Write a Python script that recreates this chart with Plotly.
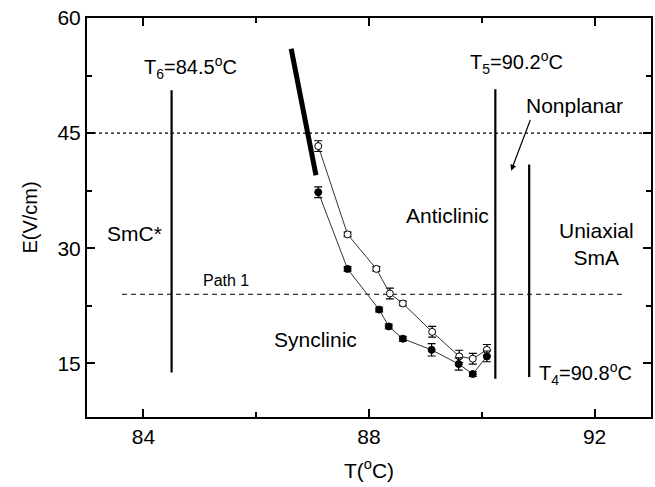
import plotly.graph_objects as go

# Data
T_open = [87.10, 87.62, 88.13, 88.37, 88.60, 89.12, 89.60, 89.84, 90.09]
E_open = [43.3, 31.8, 27.3, 24.1, 22.8, 19.1, 15.9, 15.6, 16.75]
err_open = [0.7, 0.3, 0.3, 0.7, 0.3, 0.7, 0.8, 0.7, 0.7]

T_fill = [87.10, 87.62, 88.18, 88.35, 88.60, 89.11, 89.59, 89.84, 90.09]
E_fill = [37.3, 27.3, 22.0, 19.8, 18.2, 16.75, 14.9, 13.6, 15.9]
err_fill = [0.7, 0.3, 0.3, 0.3, 0.3, 0.8, 0.8, 0.3, 0.7]

T_thick = [86.62, 87.06]
E_thick = [56.0, 39.5]

E_nonplanar = 45.0
E_path1 = 24.0
path1_T = [83.62, 92.54]

T6 = 84.5
T6_E = [13.8, 50.6]
T5 = 90.24
T5_E = [13.0, 50.7]
T4 = 90.84
T4_E = [13.2, 40.9]

x_range = [83, 93]
y_range = [8, 60]
x_ticks = [84, 88, 92]
y_ticks = [15, 30, 45, 60]

FONT = "Liberation Sans, Arial, sans-serif"

fig = go.Figure()

# horizontal reference lines
fig.add_trace(go.Scatter(x=x_range, y=[E_nonplanar, E_nonplanar], mode="lines",
                         line=dict(color="black", width=1.2, dash="dot"),
                         showlegend=False, hoverinfo="skip"))
fig.add_trace(go.Scatter(x=path1_T, y=[E_path1, E_path1], mode="lines",
                         line=dict(color="black", width=1.2, dash="5px,4px"),
                         showlegend=False, hoverinfo="skip"))

# vertical phase-boundary lines
for tv, ev in [(T6, T6_E), (T5, T5_E), (T4, T4_E)]:
    fig.add_trace(go.Scatter(x=[tv, tv], y=ev, mode="lines",
                             line=dict(color="black", width=2.2),
                             showlegend=False, hoverinfo="skip"))

# thick line
fig.add_trace(go.Scatter(x=T_thick, y=E_thick, mode="lines",
                         line=dict(color="black", width=5),
                         showlegend=False, hoverinfo="skip"))

# open-circle series
fig.add_trace(go.Scatter(x=T_open, y=E_open, mode="lines+markers",
                         line=dict(color="#333333", width=1),
                         marker=dict(symbol="circle", size=7, color="white",
                                     line=dict(color="black", width=1)),
                         error_y=dict(type="data", array=err_open, color="black",
                                      thickness=1.2, width=4),
                         showlegend=False))
# filled-circle series
fig.add_trace(go.Scatter(x=T_fill, y=E_fill, mode="lines+markers",
                         line=dict(color="#333333", width=1),
                         marker=dict(symbol="circle", size=7, color="black",
                                     line=dict(color="black", width=1)),
                         error_y=dict(type="data", array=err_fill, color="black",
                                      thickness=1.2, width=4),
                         showlegend=False))

ann = [
    dict(x=84.84, y=53.5, text="T<sub>6</sub>=84.5<sup>o</sup>C", size=20),
    dict(x=90.61, y=54.2, text="T<sub>5</sub>=90.2<sup>o</sup>C", size=20),
    dict(x=91.84, y=13.7, text="T<sub>4</sub>=90.8<sup>o</sup>C", size=20),
    dict(x=91.65, y=48.6, text="Nonplanar", size=21),
    dict(x=89.4, y=34.3, text="Anticlinic", size=21),
    dict(x=92.03, y=30.6, text="Uniaxial<br>SmA", size=21),
    dict(x=83.85, y=31.9, text="SmC*", size=21),
    dict(x=85.46, y=25.8, text="Path 1", size=16),
    dict(x=87.05, y=18.1, text="Synclinic", size=21),
]
annotations = [dict(x=a["x"], y=a["y"], xref="x", yref="y", text=a["text"],
                    showarrow=False, font=dict(family=FONT, size=a["size"], color="black"))
               for a in ann]
annotations.append(dict(x=90.52, y=40.1, ax=90.87, ay=46.9, xref="x", yref="y",
                        axref="x", ayref="y", text="", showarrow=True,
                        arrowhead=2, arrowsize=1, arrowwidth=1.2, arrowcolor="black"))

axis_common = dict(showline=True, linecolor="black", linewidth=2, mirror="allticks",
                   ticks="inside", ticklen=8, tickwidth=2, tickcolor="black",
                   showgrid=False, zeroline=False,
                   tickfont=dict(family=FONT, size=21, color="black"))

fig.update_layout(
    width=655, height=487,
    margin=dict(l=87, r=2, t=18, b=70),
    paper_bgcolor="white", plot_bgcolor="white",
    annotations=annotations,
    xaxis=dict(range=x_range, tickvals=x_ticks,
               minor=dict(tickvals=[86, 90], ticks="inside", ticklen=5, tickwidth=2, tickcolor="black"),
               title=dict(text="T(<sup>o</sup>C)", font=dict(family=FONT, size=21, color="black"), standoff=16),
               **axis_common),
    yaxis=dict(range=y_range, tickvals=y_ticks,
               minor=dict(tickvals=[22.5, 37.5, 52.5], ticks="inside", ticklen=5, tickwidth=2, tickcolor="black"),
               title=dict(text="E(V/cm)", font=dict(family=FONT, size=20, color="black"), standoff=14),
               **axis_common),
)

fig.write_html("out.html")
